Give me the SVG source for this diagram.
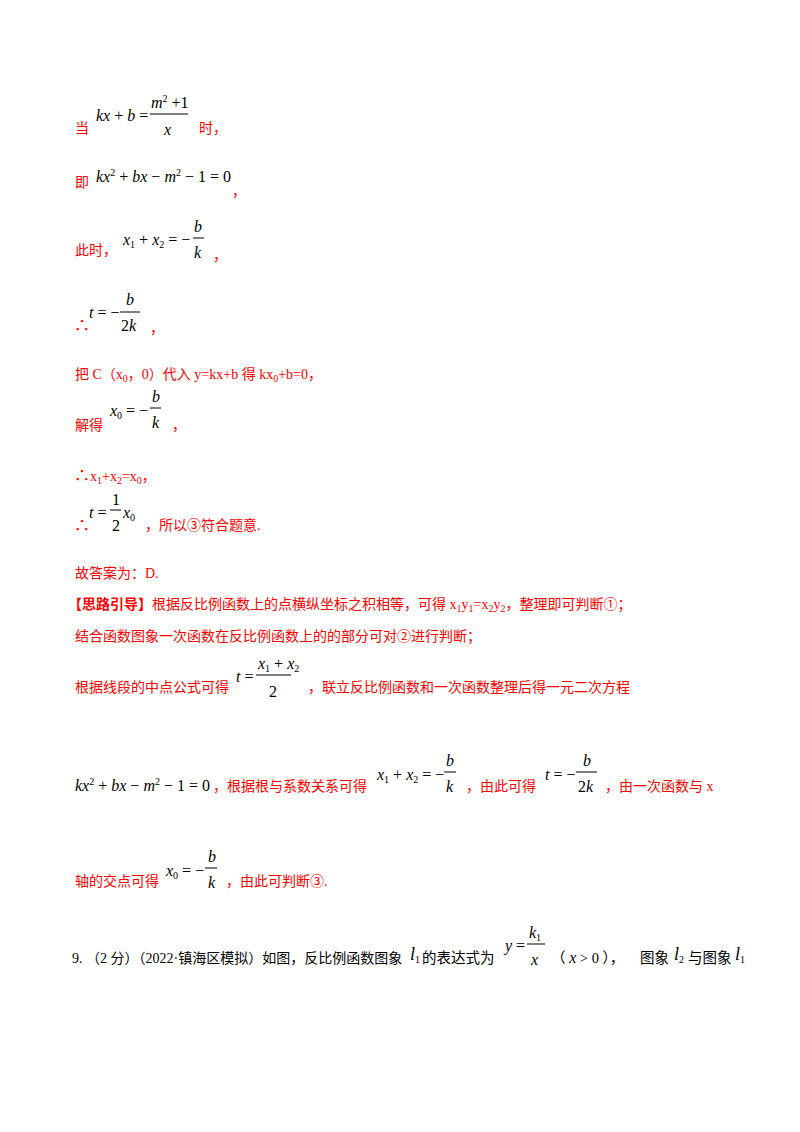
<svg xmlns="http://www.w3.org/2000/svg" width="800" height="1132" viewBox="0 0 800 1132">
<style>
.r{fill:#ff0000;font-family:"Liberation Serif","Noto Sans CJK SC",serif;font-size:14px}
.k{fill:#000;font-family:"Liberation Serif","Noto Sans CJK SC",serif;font-size:14.5px}
.m{fill:#000;font-family:"Liberation Serif",serif;font-size:16px;font-style:italic}
.n{font-style:normal}
.s{font-size:10px}
.L{font-size:18px}
.t{font-size:16px}
.f{stroke:#000;stroke-width:1}
</style>
<rect width="800" height="1132" fill="#fff"/>
<g id="l1">
<text class="r" x="75" y="133">当</text>
<text class="m" x="96" y="121">kx <tspan class="n">+</tspan> b <tspan class="n">=</tspan></text>
<text class="m" x="151" y="108">m<tspan class="s n" dy="-6">2</tspan><tspan class="n" dy="6"> +1</tspan></text>
<line class="f" x1="150" y1="114" x2="188" y2="114"/>
<text class="m" x="164" y="135">x</text>
<text class="r" x="199" y="133">时，</text>
</g>
<g id="l2">
<text class="r" x="75" y="187">即</text>
<text class="m" x="96" y="182">kx<tspan class="s n" dy="-6">2</tspan><tspan dy="6"> <tspan class="n">+</tspan> bx <tspan class="n">−</tspan> m</tspan><tspan class="s n" dy="-6">2</tspan><tspan class="n" dy="6"> − 1 = 0</tspan></text>
<text class="r" x="232" y="196">，</text>
</g>
<g id="l3">
<text class="r" x="75" y="255">此时，</text>
<text class="m" x="123" y="245">x<tspan class="s n" dy="3">1</tspan><tspan dy="-3" class="n"> + </tspan>x<tspan class="s n" dy="3">2</tspan><tspan dy="-3" class="n"> = −</tspan></text>
<text class="m" x="194" y="232">b</text>
<line class="f" x1="193" y1="238" x2="204" y2="238"/>
<text class="m" x="194" y="258">k</text>
<text class="r" x="213" y="260">，</text>
</g>
<g id="l4">
<text class="r t" x="74" y="331">∴</text>
<text class="m" x="89" y="318">t <tspan class="n">= −</tspan></text>
<text class="m" x="126" y="305">b</text>
<line class="f" x1="120" y1="312" x2="140" y2="312"/>
<text class="m" x="121" y="331"><tspan class="n">2</tspan>k</text>
<text class="r" x="150" y="333">，</text>
</g>
<g id="l5"><text class="r" x="75" y="379">把 C（x<tspan class="s" dy="3">0</tspan><tspan dy="-3">，0）代入 y=kx+b 得 kx</tspan><tspan class="s" dy="3">0</tspan><tspan dy="-3">+b=0，</tspan></text></g>
<g id="l6">
<text class="r" x="75" y="430">解得</text>
<text class="m" x="110" y="416">x<tspan class="s n" dy="3">0</tspan><tspan dy="-3" class="n"> = −</tspan></text>
<text class="m" x="152" y="402">b</text>
<line class="f" x1="150" y1="408" x2="161" y2="408"/>
<text class="m" x="152" y="428">k</text>
<text class="r" x="172" y="430">，</text>
</g>
<g id="l7"><text class="r" x="74" y="481"><tspan class="t">∴</tspan>x<tspan class="s" dy="3">1</tspan><tspan dy="-3">+x</tspan><tspan class="s" dy="3">2</tspan><tspan dy="-3">=x</tspan><tspan class="s" dy="3">0</tspan><tspan dy="-3">，</tspan></text></g>
<g id="l8">
<text class="r t" x="74" y="531">∴</text>
<text class="m" x="89" y="518">t <tspan class="n">=</tspan></text>
<text class="m n" x="112" y="505">1</text>
<line class="f" x1="110" y1="510" x2="121" y2="510"/>
<text class="m n" x="112" y="531">2</text>
<text class="m" x="123" y="518">x<tspan class="s n" dy="3">0</tspan></text>
<text class="r" x="145" y="530">，所以③符合题意.</text>
</g>
<g id="l9"><text class="r" x="75" y="578">故答案为：D.</text></g>
<g id="l10"><text class="r" x="68" y="609"><tspan font-weight="bold">【思路引导】</tspan>根据反比例函数上的点横纵坐标之积相等，可得 x<tspan class="s" dy="3">1</tspan><tspan dy="-3">y</tspan><tspan class="s" dy="3">1</tspan><tspan dy="-3">=x</tspan><tspan class="s" dy="3">2</tspan><tspan dy="-3">y</tspan><tspan class="s" dy="3">2</tspan><tspan dy="-3">，整理即可判断①；</tspan></text></g>
<g id="l11"><text class="r" x="75" y="641">结合函数图象一次函数在反比例函数上的的部分可对②进行判断；</text></g>
<g id="l12">
<text class="r" x="75" y="692">根据线段的中点公式可得</text>
<text class="m" x="236" y="682">t <tspan class="n">=</tspan></text>
<text class="m" x="258" y="669">x<tspan class="s n" dy="3">1</tspan><tspan dy="-3" class="n"> + </tspan>x<tspan class="s n" dy="3">2</tspan></text>
<line class="f" x1="256" y1="675" x2="291" y2="675"/>
<text class="m n" x="269" y="697">2</text>
<text class="r" x="308" y="692">，联立反比例函数和一次函数整理后得一元二次方程</text>
</g>
<g id="l13">
<text class="m" x="75" y="791">kx<tspan class="s n" dy="-6">2</tspan><tspan dy="6"> <tspan class="n">+</tspan> bx <tspan class="n">−</tspan> m</tspan><tspan class="s n" dy="-6">2</tspan><tspan class="n" dy="6"> − 1 = 0</tspan></text>
<text class="r" x="213" y="791">，根据根与系数关系可得</text>
<text class="m" x="377" y="780">x<tspan class="s n" dy="3">1</tspan><tspan dy="-3" class="n"> + </tspan>x<tspan class="s n" dy="3">2</tspan><tspan dy="-3" class="n"> = −</tspan></text>
<text class="m" x="446" y="766">b</text>
<line class="f" x1="444" y1="772" x2="456" y2="772"/>
<text class="m" x="446" y="792">k</text>
<text class="r" x="466" y="791">，由此可得</text>
<text class="m" x="545" y="780">t <tspan class="n">= −</tspan></text>
<text class="m" x="583" y="766">b</text>
<line class="f" x1="576" y1="772" x2="597" y2="772"/>
<text class="m" x="578" y="792"><tspan class="n">2</tspan>k</text>
<text class="r" x="605" y="791">，由一次函数与 x</text>
</g>
<g id="l14">
<text class="r" x="75" y="886">轴的交点可得</text>
<text class="m" x="166" y="876">x<tspan class="s n" dy="3">0</tspan><tspan dy="-3" class="n"> = −</tspan></text>
<text class="m" x="208" y="862">b</text>
<line class="f" x1="205" y1="868" x2="217" y2="868"/>
<text class="m" x="208" y="888">k</text>
<text class="r" x="226" y="886">，由此可判断③.</text>
</g>
<g id="q9">
<text class="k" x="72" y="963" style="font-size:14px">9. （2 分）（2022·镇海区模拟）如图，反比例函数图象</text>
<text class="m L" x="410" y="960">l<tspan class="s n" dy="3">1</tspan></text>
<text class="k" x="422" y="963">的表达式为</text>
<text class="m" x="505" y="951">y <tspan class="n">=</tspan></text>
<text class="m" x="529" y="938">k<tspan class="s n" dy="3">1</tspan></text>
<line class="f" x1="527" y1="944" x2="545" y2="944"/>
<text class="m" x="531" y="965">x</text>
<text class="k" x="551" y="963">（ <tspan class="t" font-style="italic">x</tspan> &gt; 0 ），</text>
<text class="k" x="640" y="963">图象</text>
<text class="m L" x="674" y="960">l<tspan class="s n" dy="3">2</tspan></text>
<text class="k" x="688" y="963">与图象</text>
<text class="m L" x="735" y="960">l<tspan class="s n" dy="3">1</tspan></text>
</g>
</svg>
